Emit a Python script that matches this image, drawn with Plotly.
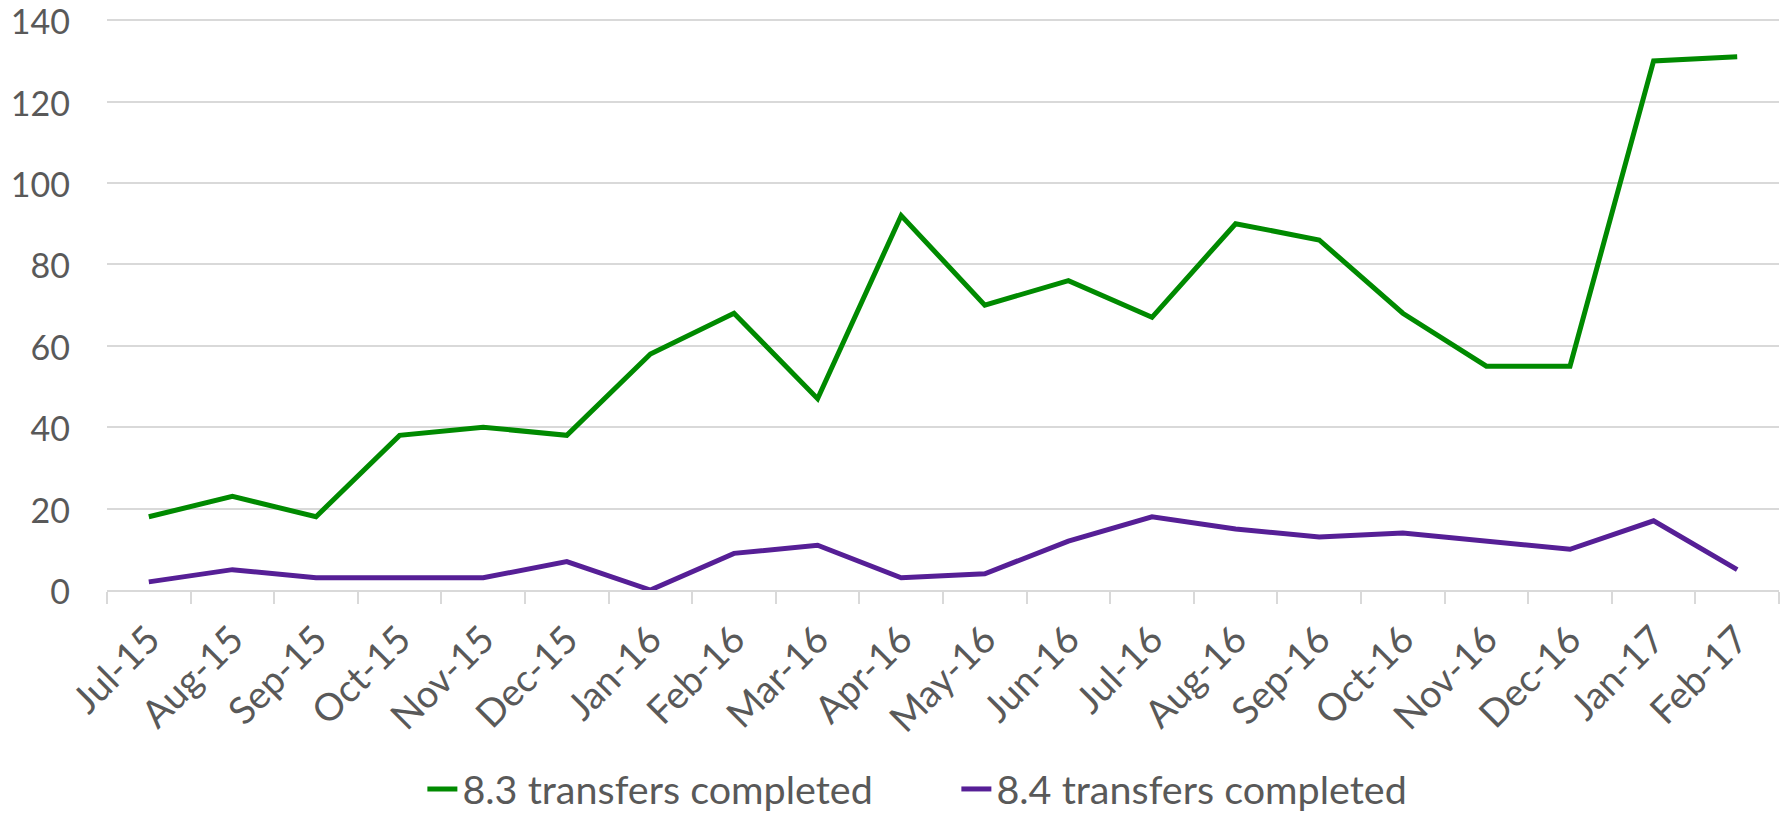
import plotly.graph_objects as go

categories = ["Jul-15", "Aug-15", "Sep-15", "Oct-15", "Nov-15", "Dec-15", "Jan-16", "Feb-16",
              "Mar-16", "Apr-16", "May-16", "Jun-16", "Jul-16", "Aug-16", "Sep-16", "Oct-16",
              "Nov-16", "Dec-16", "Jan-17", "Feb-17"]
transfers_83 = [18, 23, 18, 38, 40, 38, 58, 68, 47, 92, 70, 76, 67, 90, 86, 68, 55, 55, 130, 131]
transfers_84 = [2, 5, 3, 3, 3, 7, 0, 9, 11, 3, 4, 12, 18, 15, 13, 14, 12, 10, 17, 5]
y_ticks = [0, 20, 40, 60, 80, 100, 120, 140]

FONT = "Lato"
GRAY = "#595959"
GRID = "#d9d9d9"

fig = go.Figure()
fig.add_trace(go.Scatter(x=categories, y=transfers_83, mode="lines",
                         name="8.3 transfers completed",
                         line=dict(color="#008a00", width=5)))
fig.add_trace(go.Scatter(x=categories, y=transfers_84, mode="lines",
                         name="8.4 transfers completed",
                         line=dict(color="#561f96", width=5)))

fig.update_layout(
    width=1788, height=815,
    margin=dict(l=107, r=9, t=19, b=225, autoexpand=False),
    plot_bgcolor="white", paper_bgcolor="white",
    font=dict(family=FONT, size=34, color=GRAY),
    showlegend=True,
    legend=dict(orientation="h", x=0.508, xanchor="center", y=-0.349, yanchor="middle",
                font=dict(family=FONT, size=39.5, color=GRAY), entrywidth=489),
    xaxis=dict(type="category", range=[-0.5, 19.5], showgrid=False, automargin=False,
               showline=True, linecolor=GRID, linewidth=2,
               ticks="outside", tickson="boundaries", ticklen=12, tickcolor=GRID, tickwidth=2,
               tickangle=-45, ticklabelstandoff=10,
               tickfont=dict(family=FONT, size=38, color=GRAY)),
    yaxis=dict(range=[0, 140.3], tickvals=y_ticks, showgrid=True, gridcolor=GRID, gridwidth=2,
               zeroline=False, showline=False, ticklabelstandoff=36, automargin=False,
               ticklabeloverflow="allow", ticklabelshift=2,
               tickfont=dict(family=FONT, size=34, color=GRAY)),
)

fig.write_html("out.html", config={"displayModeBar": False},
               post_script="document.body.style.margin='0px';document.body.style.overflow='hidden';")
